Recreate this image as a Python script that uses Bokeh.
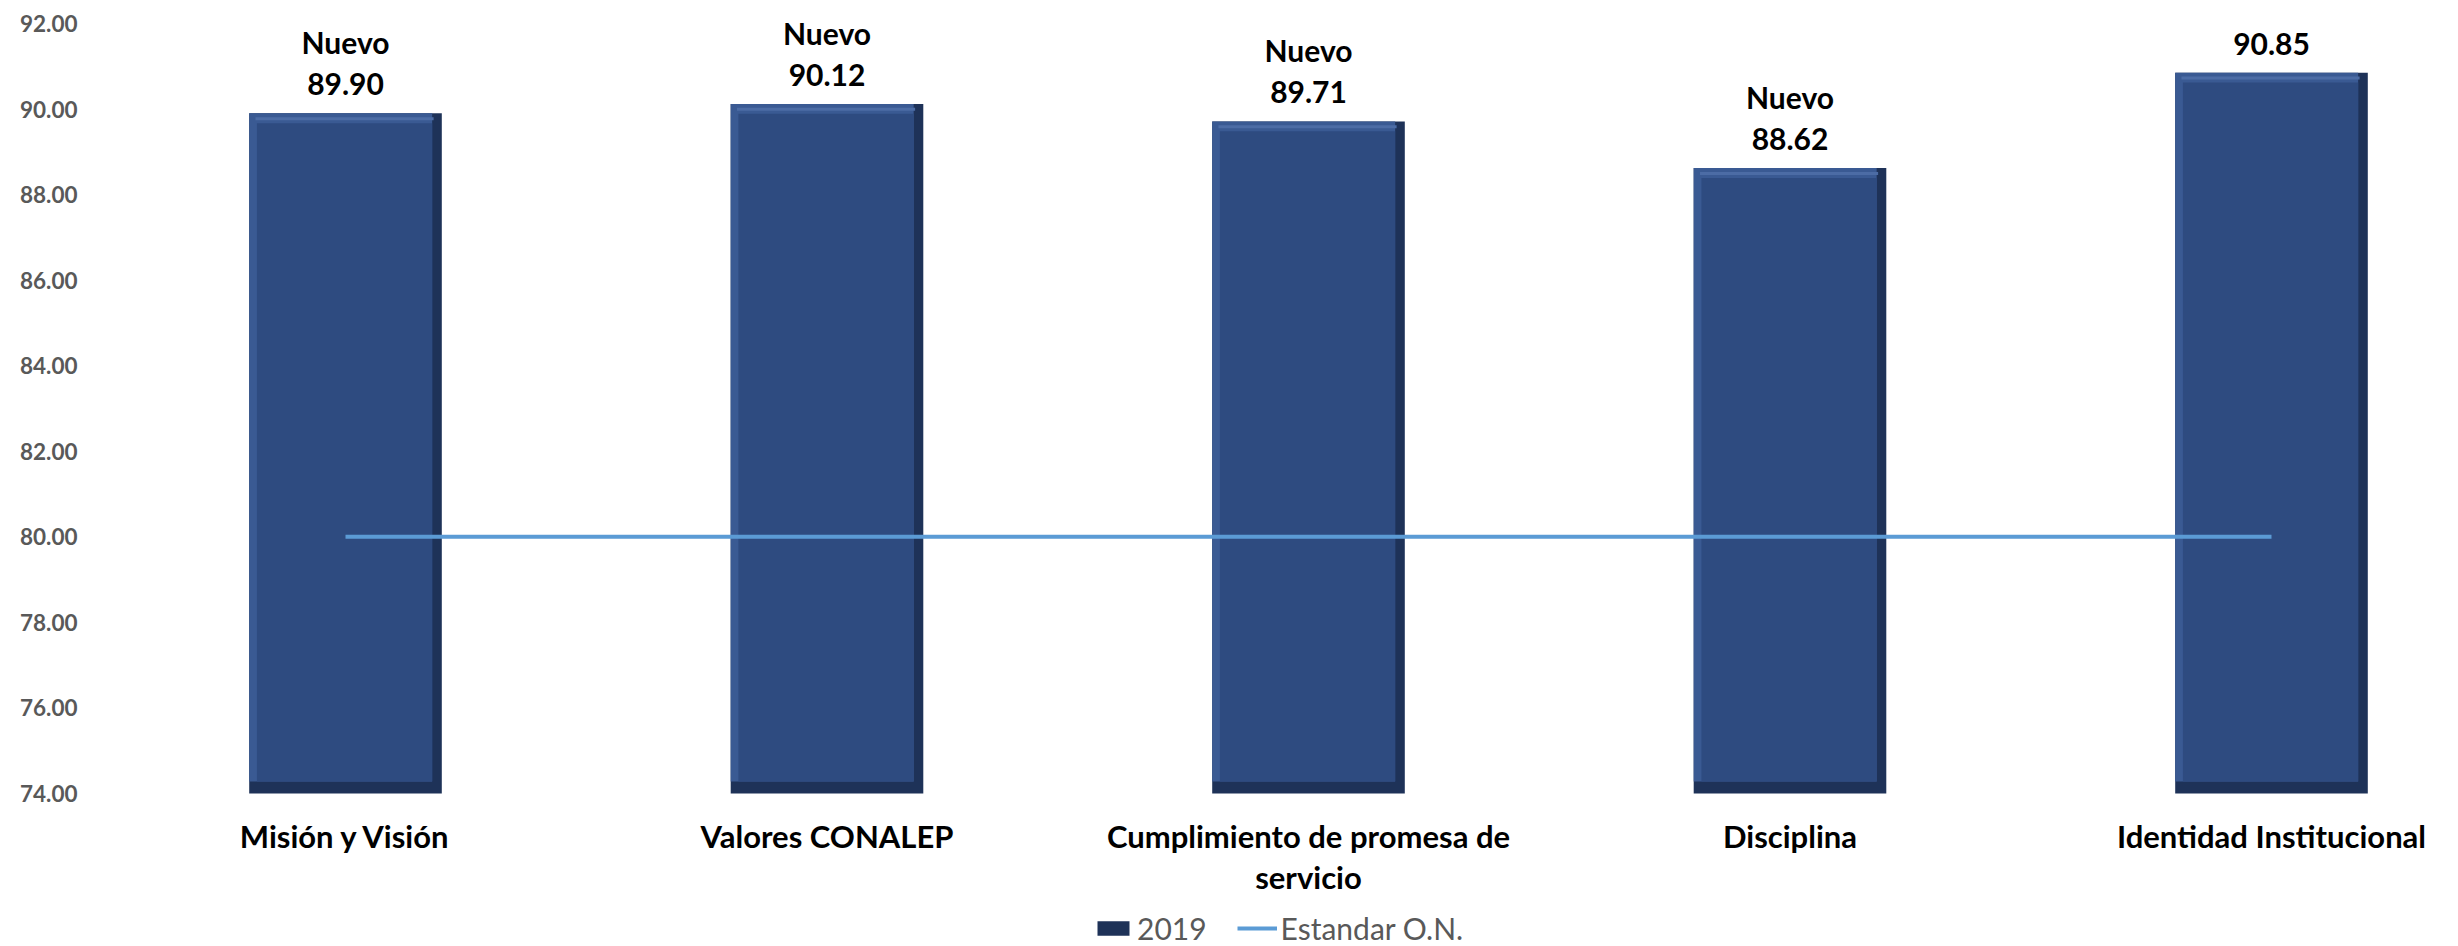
from bokeh.plotting import figure
from bokeh.models import Range1d, FixedTicker, NumeralTickFormatter, Legend, LegendItem
from bokeh.core.properties import value
from bokeh.embed import file_html
from bokeh.resources import INLINE

# ---- data ----
categories = ["Misión y Visión", "Valores CONALEP", "Cumplimiento de promesa de\nservicio",
              "Disciplina", "Identidad Institucional"]
values_2019 = [89.90, 90.12, 89.71, 88.62, 90.85]
status_labels = ["Nuevo", "Nuevo", "Nuevo", "Nuevo", ""]
estandar_on = [80, 80, 80, 80, 80]
y_ticks = [74, 76, 78, 80, 82, 84, 86, 88, 90, 92]
y_min = 74

xs = list(range(len(categories)))
value_text = ["%.2f" % v for v in values_2019]

FONT = value("Lato")

# frame spans the canvas height; the y axis only labels 74..92
p = figure(frame_width=2350, frame_height=938,
           x_range=Range1d(-0.5296, 4.3510), y_range=Range1d(70.4236, 92.35),
           output_backend="svg", toolbar_location=None,
           min_border_left=90, min_border_right=0, min_border_top=8, min_border_bottom=0)
p.outline_line_color = None
p.xgrid.visible = False
p.ygrid.visible = False
p.xaxis.visible = False
p.background_fill_color = "white"
p.border_fill_color = "white"

# bars with a bevel look
bw = 0.40
outer = p.vbar(x=xs, top=values_2019, bottom=y_min, width=bw,
               fill_color="#1E3258", line_color=None)
p.vbar(x=[x - 0.01 for x in xs], top=values_2019, bottom=[y_min + 0.28] * 5, width=bw - 0.02,
       fill_color="#3A5A93", line_color=None)
face = p.vbar(x=[x - 0.002 for x in xs], top=[v - 0.23 for v in values_2019],
              bottom=[y_min + 0.28] * 5, width=bw - 0.036,
              fill_color="#2E4B80", line_color=None)
p.vbar(x=[x - 0.002 for x in xs], top=[v - 0.09 for v in values_2019],
       bottom=[v - 0.16 for v in values_2019], width=bw - 0.03,
       fill_color="#4C6CA5", line_color=None)

# standard line
line_r = p.line(x=xs, y=estandar_on, line_color="#5B9BD5", line_width=4)

# value labels
p.text(x=xs, y=values_2019, text=value_text, text_font=FONT, text_font_style="bold",
       text_font_size="30px", text_align="center", text_baseline="bottom",
       y_offset=-18, text_color="black")
p.text(x=xs, y=values_2019, text=status_labels, text_font=FONT, text_font_style="bold",
       text_font_size="30px", text_align="center", text_baseline="bottom",
       y_offset=-53, text_color="black")

# category labels under the bars
p.text(x=xs, y=[y_min] * len(xs), text=categories, text_font=FONT, text_font_style="bold",
       text_font_size="31px", text_align="center", text_baseline="top",
       text_line_height=1.1, y_offset=23, text_color="black")

# y axis
p.yaxis.ticker = FixedTicker(ticks=y_ticks)
p.yaxis.formatter = NumeralTickFormatter(format="0.00")
p.yaxis.major_label_text_font = "Lato"
p.yaxis.major_label_text_font_style = "bold"
p.yaxis.major_label_text_font_size = "22.5px"
p.yaxis.major_label_text_color = "#595959"
p.yaxis.major_label_standoff = 13
p.yaxis.axis_line_color = None
p.yaxis.major_tick_line_color = None
p.yaxis.minor_tick_line_color = None
p.yaxis.major_tick_out = 0

legend = Legend(items=[LegendItem(label="2019", renderers=[outer]),
                       LegendItem(label="Estandar O.N.", renderers=[line_r])],
                orientation="horizontal", location=(1003, 0),
                border_line_color=None, background_fill_alpha=0,
                label_text_font="Lato", label_text_font_size="30px",
                label_text_color="#595959", glyph_width=40, glyph_height=18,
                spacing=30, label_standoff=4, padding=0, margin=0)
p.add_layout(legend)

open("out.html", "w").write(file_html(p, INLINE))
